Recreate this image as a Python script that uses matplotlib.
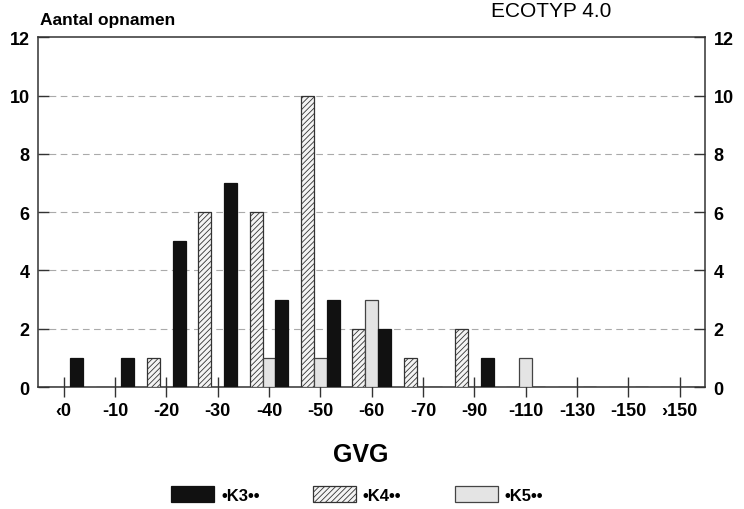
import matplotlib.pyplot as plt
import numpy as np

plt.rcParams['font.family'] = ['Liberation Sans', 'DejaVu Sans']
plt.rcParams['hatch.linewidth'] = 0.6
plt.rcParams['hatch.color'] = '#444444'

###  DATA  ###

categories = ['\u20390', '-10', '-20', '-30', '-40', '-50', '-60',
              '-70', '-90', '-110', '-130', '-150', '\u203a150']
k3 = [1, 1, 5, 7, 3, 3, 2, 0, 1, 0, 0, 0, 0]
k4 = [0, 0, 1, 6, 6, 10, 2, 1, 2, 0, 0, 0, 0]
k5 = [0, 0, 0, 0, 1, 1, 3, 0, 0, 1, 0, 0, 0]
yticks = [0, 2, 4, 6, 8, 10, 12]

###  PLOT  ###

fig = plt.figure(figsize=(7.44, 5.10), dpi=100)
ax = fig.add_axes([0.051, 0.239, 0.897, 0.686])

x = np.arange(len(categories))
w = 0.25
ax.bar(x - w, k4, w, color='#f4f4f4', edgecolor='#333333', hatch='//////',
       linewidth=0.9, label='\u2022K4\u2022\u2022', zorder=3)
ax.bar(x, k5, w, color='#e4e4e4', edgecolor='#444444',
       linewidth=0.9, label='\u2022K5\u2022\u2022', zorder=3)
ax.bar(x + w, k3, w, color='#111111', edgecolor='#111111',
       linewidth=0.9, label='\u2022K3\u2022\u2022', zorder=3)

ax.set_xlim(-0.5, 12.5)
ax.set_ylim(0, 12)
ax.set_xticks(x)
ax.set_xticklabels(categories, fontsize=13, fontweight='bold')
ax.set_yticks(yticks)
ax.set_yticklabels([str(v) for v in yticks], fontsize=13, fontweight='bold')
ax.tick_params(axis='x', direction='inout', length=14, width=1.0, pad=4,
               color='#333333')
ax.tick_params(axis='y', direction='in', length=8, width=1.0, pad=6,
               left=True, right=True, labelleft=True, labelright=True,
               color='#333333')
for s in ax.spines.values():
    s.set_linewidth(1.1)
    s.set_color('#333333')

for v in yticks[1:-1]:
    ax.axhline(v, color='#aaaaaa', lw=0.8, ls=(0, (6, 4)), zorder=1)

fig.text(0.054, 0.945, 'Aantal opnamen', fontsize=12.5, fontweight='bold',
         ha='left', va='bottom')
fig.text(0.66, 0.996, 'ECOTYP 4.0', fontsize=15, ha='left', va='top')
fig.text(0.485, 0.108, 'GVG', fontsize=18, fontweight='bold', ha='center',
         va='center')

h, l = ax.get_legend_handles_labels()
order = [2, 0, 1]
fig.legend([h[i] for i in order], [l[i] for i in order], loc='center',
           bbox_to_anchor=(0.48, 0.028), ncol=3, frameon=False,
           handlelength=2.6, handleheight=1.1, handletextpad=0.4,
           columnspacing=3.2, prop={'size': 12, 'weight': 'bold'})

fig.savefig('out.png', dpi=100)
